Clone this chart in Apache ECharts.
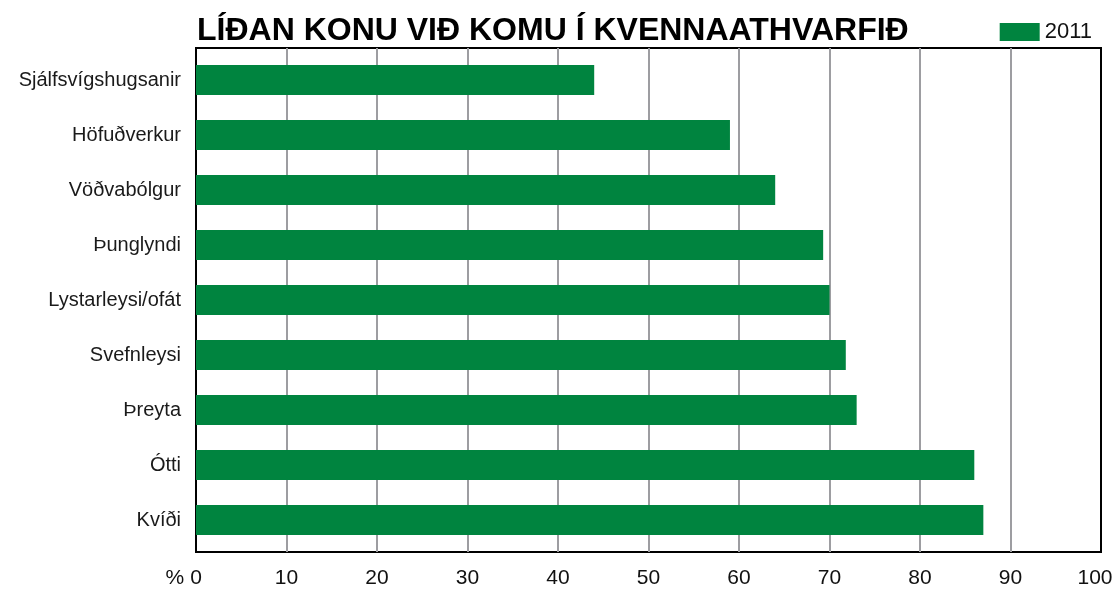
<!DOCTYPE html>
<html>
<head>
<meta charset="utf-8">
<script src="https://cdn.jsdelivr.net/npm/echarts@6/dist/echarts.min.js"></script>
<style>
  html, body { margin: 0; padding: 0; background: #fff; overflow: hidden; }
  #chart { width: 100vw; height: 100vh; }
</style>
</head>
<body>
<div id="chart"></div>
<script>
// gögn lesin af myndinni
const categories = ['Sjálfsvígshugsanir', 'Höfuðverkur', 'Vöðvabólgur', 'Þunglyndi', 'Lystarleysi/ofát', 'Svefnleysi', 'Þreyta', 'Ótti', 'Kvíði']
const values2011 = [44, 59, 64, 69.3, 70, 71.8, 73, 86, 87]
const seriesName = '2011'
const xMin = 0
const xMax = 100
const xStep = 10

const font = 'Liberation Sans'
const green = '#00843f'

const chart = echarts.init(document.getElementById('chart'))
chart.setOption({
  animation: false,
  title: {
    text: 'LÍÐAN KONU VIÐ KOMU Í KVENNAATHVARFIÐ',
    left: 192,
    top: 10,
    textStyle: { fontFamily: font, fontSize: 32, fontWeight: 'bold', color: '#000' }
  },
  legend: {
    right: 18,
    top: 16,
    itemWidth: 40,
    itemHeight: 18,
    itemGap: 10,
    icon: 'rect',
    textStyle: { fontFamily: font, fontSize: 22, color: '#111' },
    data: [seriesName]
  },
  grid: [
    // ramminn og lóðréttu línurnar
    { left: 196, right: 14, top: 48, bottom: 38, outerBoundsMode: 'none', containLabel: false, show: true, borderColor: '#000', borderWidth: 2 },
    // súlurnar
    { left: 196, right: 14, top: 52.5, bottom: 42.5, outerBoundsMode: 'none', containLabel: false }
  ],
  xAxis: [
    {
      gridIndex: 0,
      type: 'value',
      min: xMin,
      max: xMax,
      interval: xStep,
      name: '%',
      nameLocation: 'start',
      nameGap: 10,
      nameTextStyle: { fontFamily: font, fontSize: 21, color: '#111', verticalAlign: 'top', padding: [16, 0, 0, 0] },
      axisLine: { show: false },
      axisTick: { show: false },
      axisLabel: {
        fontFamily: font,
        fontSize: 21,
        color: '#111',
        margin: 16,
        // 100 færist aðeins til vinstri svo það passi
        formatter: v => (v === xMax ? '{m|' + v + '}' : String(v)),
        rich: { m: { fontFamily: font, fontSize: 21, color: '#111', padding: [0, 12, 0, 0] } }
      },
      splitLine: { show: true, showMinLine: false, showMaxLine: false, lineStyle: { color: '#9d9da1', width: 2 } }
    },
    {
      gridIndex: 1,
      type: 'value',
      min: xMin,
      max: xMax,
      show: false
    }
  ],
  yAxis: [
    { gridIndex: 0, type: 'value', show: false },
    {
      gridIndex: 1,
      type: 'category',
      inverse: true,
      data: categories,
      axisLine: { show: false },
      axisTick: { show: false },
      axisLabel: { fontFamily: font, fontSize: 20, color: '#1a1a1a', margin: 15 }
    }
  ],
  series: [
    {
      name: seriesName,
      type: 'bar',
      xAxisIndex: 1,
      yAxisIndex: 1,
      data: values2011,
      barWidth: 30,
      itemStyle: { color: green }
    }
  ]
})
</script>
</body>
</html>
